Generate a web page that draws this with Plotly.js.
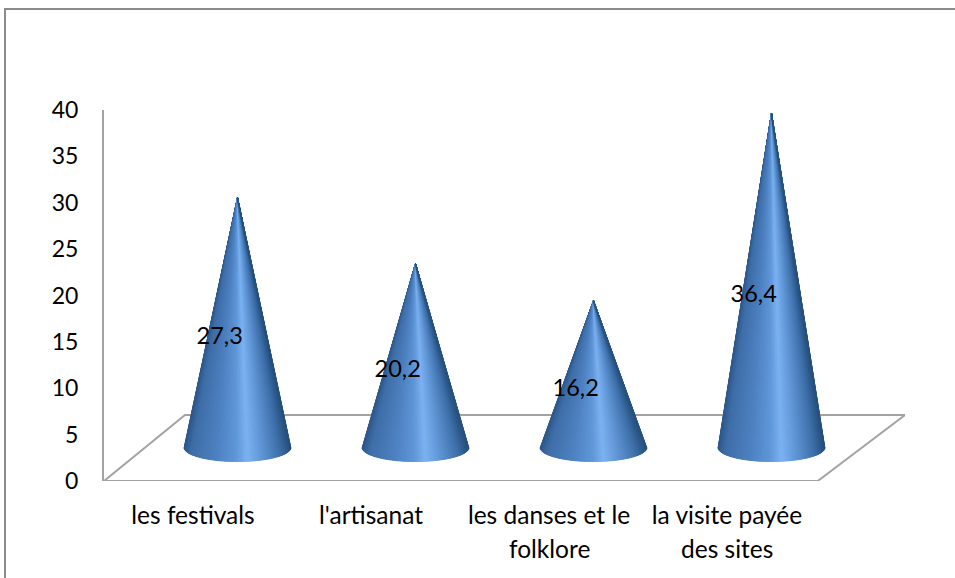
<!DOCTYPE html>
<html><head><meta charset="utf-8">
<script src="https://cdn.plot.ly/plotly-3.0.1.min.js"></script>
<style>html,body{margin:0;padding:0;background:#fff;overflow:hidden}</style>
</head><body><div id="chart" style="width:955px;height:578px"></div>
<script>
const categoryLine1 = ["les festivals", "l'artisanat", "les danses et le", "la visite payée"];
const categoryLine2 = ["", "", "folklore", "des sites"];
const values = [27.3, 20.2, 16.2, 36.4];
const valueLabels = ["27,3", "20,2", "16,2", "36,4"];
const yTicks = [0, 5, 10, 15, 20, 25, 30, 35, 40];
const floorX = [-0.5, 3.51, 4.0, -0.045, -0.5];
const floorY = [0, 0, 7.12, 7.12, 0];

const FONT = 'Lato, "Open Sans", sans-serif';
const W = 955, H = 578, M = {l:104, r:50, t:110, b:97};
const pw = W - M.l - M.r, ph = H - M.t - M.b;
const cone = {dx:0.25, halfW:0.30, base:3.6, lift:3.25, depth:1.5, strips:80};
const stops = [[-1,[46,88,138]],[-0.85,[62,110,168]],[-0.4,[76,128,192]],[0,[96,152,218]],
               [0.2,[124,178,242]],[0.5,[92,146,210]],[0.8,[62,112,170]],[1,[38,80,126]]];
function shade(t){
  for(let i=1;i<stops.length;i++){
    if(t<=stops[i][0]){
      const a=stops[i-1],b=stops[i],f=(t-a[0])/(b[0]-a[0]);
      return 'rgb('+a[1].map((c,k)=>Math.round(c+(b[1][k]-c)*f)).join(',')+')';
    }
  }
  return 'rgb(38,80,126)';
}
const traces = [{x:floorX,y:floorY,mode:'lines',line:{color:'#a3a3a3',width:2},hoverinfo:'skip',showlegend:false,cliponaxis:false}];
values.forEach((v,i)=>{
  const cx=i+cone.dx, top=cone.lift+v;
  for(let s=0;s<cone.strips;s++){
    const a0=Math.PI*s/cone.strips,a1=Math.PI*(s+1)/cone.strips;
    const xa=cx-cone.halfW*Math.cos(a0), xb=cx-cone.halfW*Math.cos(a1);
    const ya=cone.base-cone.depth*Math.sin(a0), yb=cone.base-cone.depth*Math.sin(a1);
    const c=shade(-Math.cos((a0+a1)/2));
    traces.push({x:[cx,xa,xb,cx],y:[top,ya,yb,top],mode:'lines',fill:'toself',fillcolor:c,
      line:{color:c,width:1},hoverinfo:'skip',showlegend:false,cliponaxis:false});
  }
});
traces.push({x:values.map((v,i)=>i+0.15),y:values.map(v=>cone.lift+v/2-1.5),text:valueLabels,mode:'text',
  textposition:'middle center',textfont:{family:FONT,size:23.5,color:'#000'},hoverinfo:'skip',showlegend:false,cliponaxis:false});
const px=v=>(v-M.l)/pw, py=v=>1-(v-M.t)/ph;
const layout={width:W,height:H,margin:M,paper_bgcolor:'#fff',plot_bgcolor:'#fff',showlegend:false,
  font:{family:FONT,size:24,color:'#000'},
  xaxis:{range:[-0.5,4.0],showgrid:false,zeroline:false,showline:false,ticks:'',tickmode:'array',
    tickvals:categoryLine1.map((c,i)=>i),ticktext:categoryLine1,tickangle:0,ticklabelstandoff:17,tickfont:{family:FONT,size:24.5,color:'#000'}},
  yaxis:{range:[0,40],showgrid:false,zeroline:false,showline:true,linecolor:'#a3a3a3',linewidth:2,ticks:'',
    tickmode:'array',tickvals:yTicks,ticklabelstandoff:19,tickfont:{family:FONT,size:23,color:'#000'}},
  annotations:categoryLine2.map((c,i)=>({x:i,y:py(548),xref:'x',yref:'paper',text:c,showarrow:false,
    xanchor:'center',yanchor:'middle',font:{family:FONT,size:24.5,color:'#000'}})).filter(a=>a.text),
  shapes:[{type:'line',xref:'paper',yref:'paper',x0:px(5),x1:px(5),y0:py(578),y1:py(9),line:{color:'#8c8c8c',width:2}},
          {type:'line',xref:'paper',yref:'paper',x0:px(4),x1:px(955),y0:py(9),y1:py(9),line:{color:'#8c8c8c',width:2}}]
};
Plotly.newPlot('chart',traces,layout,{displayModeBar:false,staticPlot:true});
</script></body></html>
